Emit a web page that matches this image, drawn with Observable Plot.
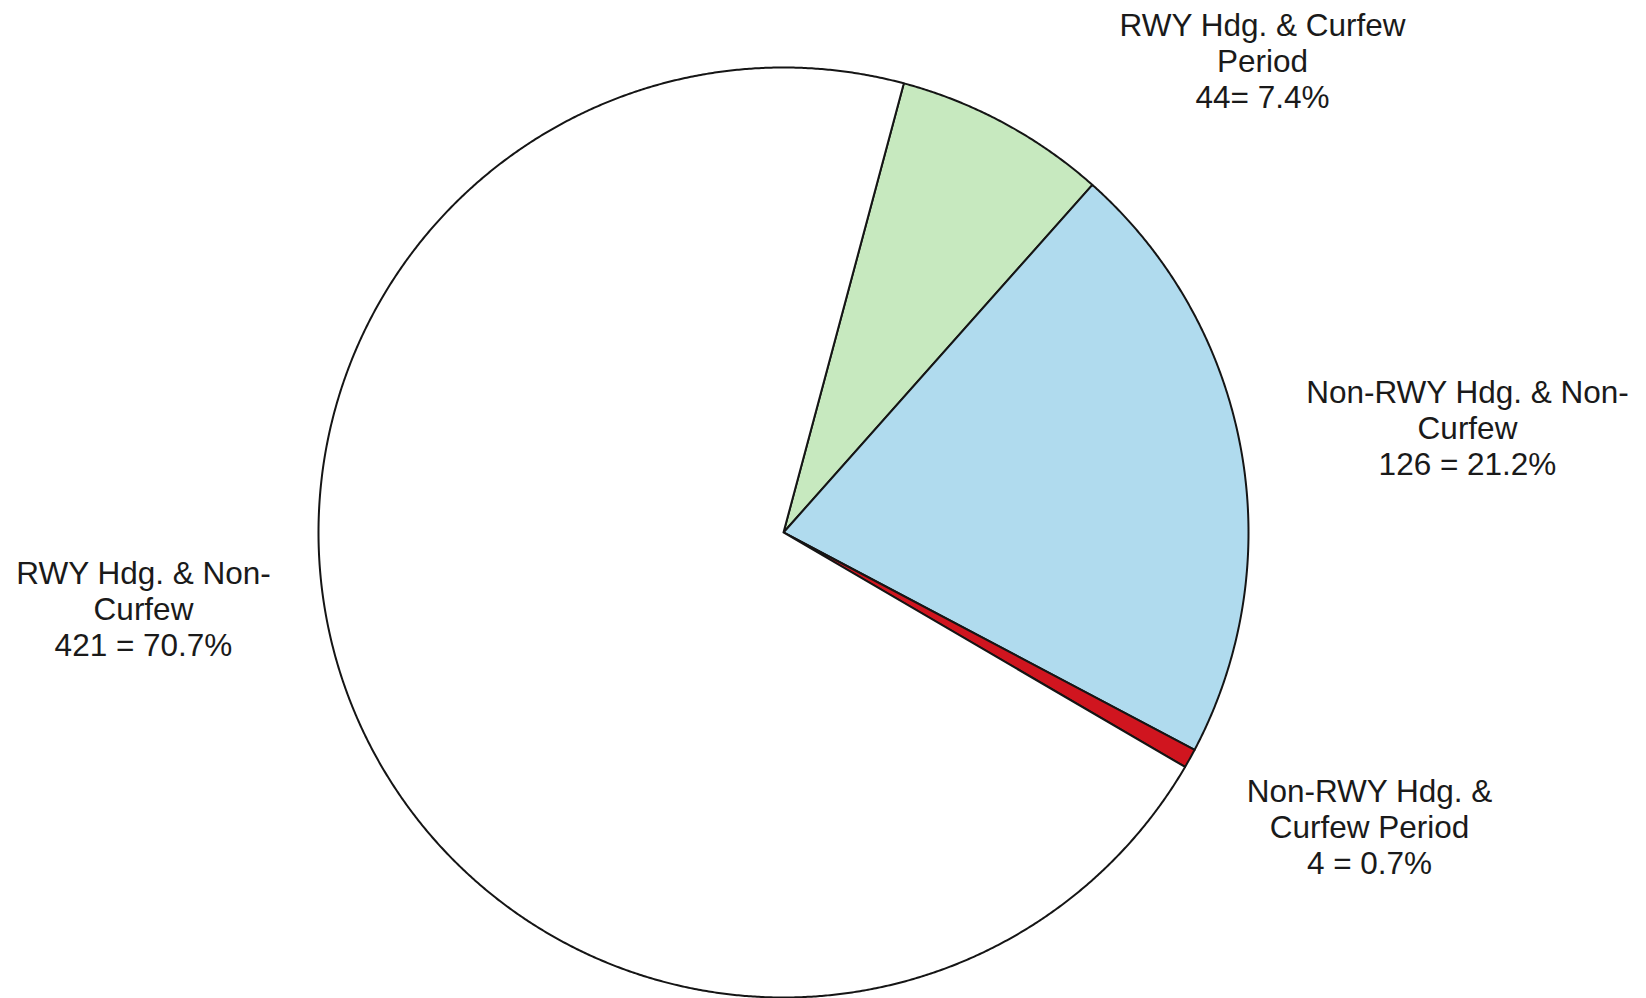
<!DOCTYPE html>
<html>
<head>
<meta charset="utf-8">
<script src="https://cdn.jsdelivr.net/npm/d3@7"></script>
<script src="https://cdn.jsdelivr.net/npm/@observablehq/plot@0.6"></script>
<style>
  html, body { margin: 0; padding: 0; background: #ffffff; }
  #chart svg { display: block; }
</style>
</head>
<body>
<div id="chart"></div>
<script>
// ---- Data ----
const categories = [
  "RWY Hdg. & Curfew Period",
  "Non-RWY Hdg. & Non-Curfew",
  "Non-RWY Hdg. & Curfew Period",
  "RWY Hdg. & Non-Curfew"
];
const counts = [44, 126, 4, 421];
const percents = ["7.4%", "21.2%", "0.7%", "70.7%"];
const labelLines = [
  ["RWY Hdg. & Curfew", "Period", "44= 7.4%"],
  ["Non-RWY Hdg. & Non-", "Curfew", "126 = 21.2%"],
  ["Non-RWY Hdg. &", "Curfew Period", "4 = 0.7%"],
  ["RWY Hdg. & Non-", "Curfew", "421 = 70.7%"]
];

// ---- Styles / layout (kept apart from the data) ----
const sliceColors = ["#c7e9bf", "#b0dbee", "#d0151f", "#ffffff"];
const W = 1646, H = 998;
const cx = 783, cy = 532, R = 465;
const firstSliceAngleDeg = 15;
// label anchor positions in pixels (center x, top of first line)
const labelPx = [[1262, 10], [1467, 377], [1369, 776], [143, 558]];

// ---- Build geometry from data ----
const a0 = firstSliceAngleDeg * Math.PI / 180;
const arcs = d3.pie().value(d => d).sort(null).startAngle(a0).endAngle(a0 + 2 * Math.PI)(counts);

const pts = [];
arcs.forEach((a, i) => {
  const color = sliceColors[i];
  pts.push({x: 0, y: 0, slice: i, color});
  const n = Math.max(2, Math.ceil((a.endAngle - a.startAngle) / (Math.PI / 720)));
  for (let k = 0; k <= n; k++) {
    const t = a.startAngle + (a.endAngle - a.startAngle) * k / n;
    pts.push({x: Math.sin(t), y: Math.cos(t), slice: i, color});
  }
  pts.push({x: 0, y: 0, slice: i, color});
});

const labels = categories.map((c, i) => ({
  category: c,
  count: counts[i],
  text: labelLines[i].join("\n"),
  x: (labelPx[i][0] - cx) / R,
  y: (cy - labelPx[i][1]) / R
}));

const chart = Plot.plot({
  width: W,
  height: H,
  margin: 0,
  style: {background: "#ffffff"},
  x: {type: "linear", domain: [-1, 1], range: [cx - R, cx + R], axis: null},
  y: {type: "linear", domain: [-1, 1], range: [cy + R, cy - R], axis: null},
  color: {type: "identity"},
  marks: [
    Plot.line(pts, {
      x: "x", y: "y", z: "slice",
      fill: "color",
      stroke: "#151515",
      strokeWidth: 2,
      strokeLinejoin: "round",
      clip: false
    }),
    Plot.text(labels, {
      x: "x", y: "y", text: "text",
      textAnchor: "middle",
      lineAnchor: "top",
      lineHeight: 1.14,
      fontSize: 31.5,
      fontFamily: "'Liberation Sans', Arial, sans-serif",
      fill: "#1a1a1a",
      clip: false
    })
  ]
});

document.getElementById("chart").appendChild(chart);
</script>
</body>
</html>
